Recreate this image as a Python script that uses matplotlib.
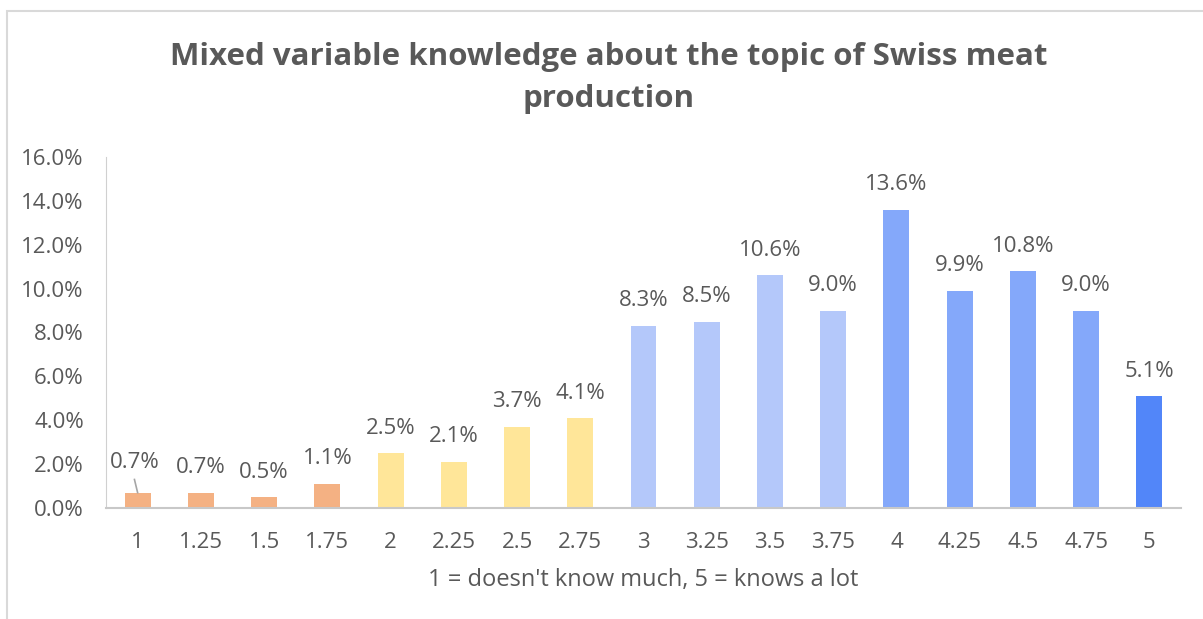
import matplotlib
matplotlib.use("Agg")
import matplotlib.pyplot as plt
from matplotlib.patches import Rectangle

levels = ['1', '1.25', '1.5', '1.75', '2', '2.25', '2.5', '2.75', '3', '3.25',
          '3.5', '3.75', '4', '4.25', '4.5', '4.75', '5']
shares = [0.7, 0.7, 0.5, 1.1, 2.5, 2.1, 3.7, 4.1, 8.3, 8.5,
          10.6, 9.0, 13.6, 9.9, 10.8, 9.0, 5.1]
colors = ['#F4B183'] * 4 + ['#FFE699'] * 4 + ['#B4C8FA'] * 4 + ['#84A8FA'] * 4 + ['#5286F9']

plt.rcParams['font.family'] = ['Open Sans', 'DejaVu Sans']
grey = '#595959'

fig = plt.figure(figsize=(12.03, 6.19), dpi=100)
ax = fig.add_axes([106 / 1203, 1 - 508 / 619, (1181 - 106) / 1203, (508 - 157) / 619])

x = range(len(levels))
ax.bar(x, shares, width=0.41, color=colors, zorder=2)
ax.set_xlim(-0.5, len(levels) - 0.5)
ax.set_ylim(0, 16)
ax.set_yticks([0, 2, 4, 6, 8, 10, 12, 14, 16])
ax.set_yticklabels(['%.1f%%' % v for v in [0, 2, 4, 6, 8, 10, 12, 14, 16]])
ax.set_xticks(list(x))
ax.set_xticklabels(levels)
ax.tick_params(axis='both', length=0, labelsize=16, colors=grey)
ax.tick_params(axis='x', pad=17)
ax.tick_params(axis='y', pad=16)

for s in ['top', 'right']:
    ax.spines[s].set_visible(False)
ax.spines['left'].set_color('#D0D0D0')
ax.spines['bottom'].set_color('#C8C8C8')
ax.spines['bottom'].set_linewidth(1.5)

for i, v in enumerate(shares):
    if i == 0:
        ax.annotate('%.1f%%' % v, xy=(i, v), xytext=(-2, 21.5), textcoords='offset points',
                    ha='center', va='center', fontsize=16, color=grey)
        ax.plot([i - 0.05, i], [v + 0.6, v], color='#A6A6A6', lw=1.2, zorder=3)
    else:
        ax.annotate('%.1f%%' % v, xy=(i, v), xytext=(0, 18), textcoords='offset points',
                    ha='center', va='center', fontsize=16, color=grey)

ax.set_xlabel("1 = doesn't know much, 5 = knows a lot", fontsize=17, color=grey, labelpad=11)

fig.text(609 / 1203, 1 - 78 / 619, 'Mixed variable knowledge about the topic of Swiss meat\nproduction',
         ha='center', va='center', fontsize=22.5, fontweight='bold', color=grey, linespacing=1.55)

fig.patches.append(Rectangle((7 / 1203, -0.1), 1.1, 1 - 11 / 619 + 0.1, transform=fig.transFigure,
                             fill=False, edgecolor='#D9D9D9', lw=1.5))

fig.savefig('out.png', dpi=100)
